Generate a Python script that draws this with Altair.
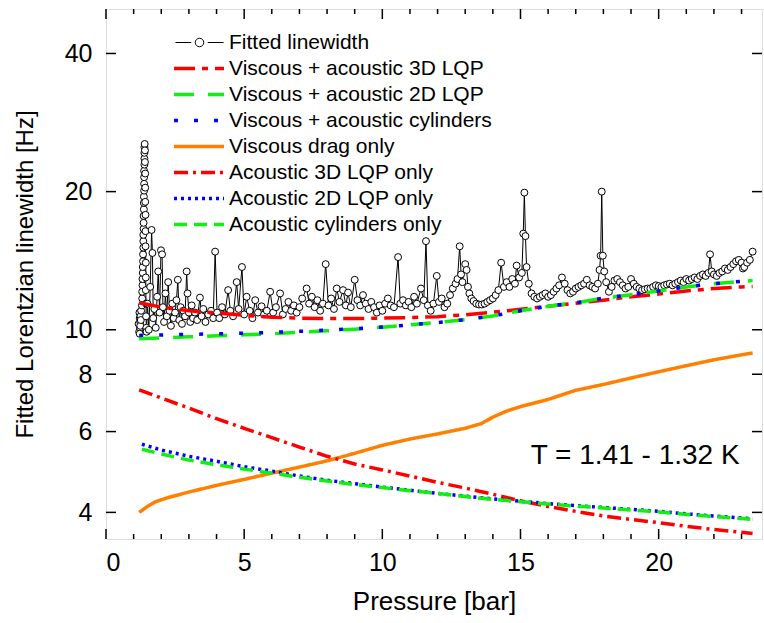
import altair as alt
import pandas as pd

FONT = "Liberation Sans"

# ---------------- data ----------------
fitted = [
    (1.18, 10.3), (1.20, 9.9), (1.22, 10.6), (1.23, 10.1), (1.21, 10.9), (1.24, 10.4),
    (1.22, 9.8), (1.25, 10.7), (1.24, 10.2), (1.27, 11.0), (1.26, 10.5),
    (1.30, 11.3), (1.31, 11.7), (1.31, 12.1), (1.32, 12.5), (1.32, 12.9), (1.33, 13.3),
    (1.33, 13.7), (1.34, 14.1), (1.34, 14.6), (1.35, 15.1), (1.35, 15.6), (1.35, 16.1),
    (1.36, 16.6), (1.36, 17.1), (1.36, 17.7), (1.37, 18.3), (1.37, 18.9), (1.37, 19.5),
    (1.38, 20.1), (1.38, 20.8), (1.38, 21.5), (1.38, 22.2), (1.39, 22.9), (1.39, 23.6),
    (1.39, 24.3), (1.39, 25.0), (1.40, 25.4),
    (1.41, 24.6), (1.41, 23.2), (1.42, 21.9), (1.42, 20.4), (1.42, 19.0), (1.43, 17.8),
    (1.43, 16.4), (1.43, 15.2), (1.44, 14.0), (1.44, 13.0), (1.44, 12.2), (1.45, 11.4),
    (1.45, 10.7), (1.46, 10.1), (1.47, 9.9),
    (1.50, 11.4), (1.55, 10.0), (1.60, 12.4), (1.65, 16.5), (1.68, 14.7), (1.71, 10.6),
    (1.75, 11.1), (1.80, 10.1), (1.85, 11.8), (1.89, 13.4), (1.94, 10.9), (1.99, 14.9),
    (2.03, 14.6), (2.06, 11.2), (2.10, 10.4), (2.15, 12.0), (2.20, 10.7), (2.25, 12.7),
    (2.30, 11.0), (2.35, 10.2), (2.40, 11.4), (2.45, 10.6), (2.50, 10.9), (2.55, 11.6),
    (2.60, 12.85), (2.65, 10.5), (2.70, 11.2), (2.75, 10.3), (2.80, 11.0), (2.86, 10.7),
    (2.92, 13.4), (2.95, 12.0), (3.00, 10.9), (3.05, 10.4), (3.10, 11.3), (3.15, 10.6),
    (3.22, 10.9), (3.30, 10.5), (3.40, 11.75), (3.46, 10.7), (3.52, 11.1), (3.60, 10.4),
    (3.70, 10.8), (3.80, 11.0), (3.88, 10.6), (3.95, 14.8), (4.02, 10.9), (4.10, 10.6),
    (4.20, 11.2), (4.30, 10.8), (4.42, 12.2), (4.50, 11.0), (4.60, 10.7), (4.73, 12.7),
    (4.80, 11.1), (4.92, 13.7), (5.00, 10.8), (5.09, 11.8), (5.20, 11.0), (5.30, 10.6),
    (5.40, 11.6), (5.50, 10.9), (5.63, 11.25), (5.72, 10.8), (5.82, 11.0), (5.94, 12.1),
    (6.05, 10.9), (6.15, 11.2), (6.30, 12.0), (6.40, 10.8), (6.50, 11.1), (6.60, 11.5),
    (6.70, 11.0), (6.80, 11.3), (6.90, 10.9), (7.00, 11.2), (7.10, 11.7), (7.26, 12.3),
    (7.35, 11.4), (7.45, 11.8), (7.55, 11.2), (7.65, 11.6), (7.75, 11.0), (7.85, 11.4),
    (7.95, 13.9), (8.05, 11.3), (8.15, 11.7), (8.25, 11.1), (8.35, 12.3), (8.45, 11.5),
    (8.58, 12.2), (8.68, 11.3), (8.76, 12.05), (8.86, 11.2), (9.00, 12.85), (9.10, 11.6),
    (9.20, 11.3), (9.30, 11.9), (9.40, 11.4), (9.50, 11.1), (9.60, 11.5), (9.70, 11.2),
    (9.80, 10.9), (9.90, 11.3), (10.00, 11.0), (10.10, 11.4), (10.20, 11.7), (10.30, 11.3),
    (10.42, 11.2), (10.57, 14.4), (10.65, 11.4), (10.75, 11.6), (10.85, 11.3), (10.95, 11.5),
    (11.05, 11.2), (11.15, 11.8), (11.25, 11.4), (11.40, 12.3), (11.50, 11.6), (11.58, 15.6),
    (11.65, 11.3), (11.75, 11.0), (11.85, 11.4), (11.97, 13.1), (12.05, 11.5), (12.15, 11.7),
    (12.25, 11.2), (12.35, 11.4), (12.45, 11.9), (12.55, 12.3), (12.65, 12.6), (12.72, 12.9),
    (12.80, 15.2), (12.85, 13.2), (12.90, 12.7), (13.00, 13.9), (13.05, 13.5), (13.10, 12.4),
    (13.15, 12.0), (13.22, 11.7), (13.30, 11.55), (13.40, 11.4), (13.50, 11.35), (13.60, 11.35),
    (13.70, 11.4), (13.80, 11.5), (13.90, 11.6), (14.00, 11.7), (14.10, 11.9), (14.20, 12.2),
    (14.30, 14.0), (14.40, 12.4), (14.50, 12.7), (14.60, 12.4), (14.70, 12.9), (14.80, 12.6),
    (14.86, 13.8), (14.95, 13.0), (15.05, 13.3), (15.10, 16.2), (15.14, 19.9), (15.18, 16.0),
    (15.22, 13.7), (15.30, 12.6), (15.40, 12.0), (15.50, 11.8), (15.60, 11.7), (15.70, 11.8),
    (15.80, 11.9), (15.90, 12.0), (16.00, 11.8), (16.10, 11.9), (16.20, 12.1), (16.30, 12.3),
    (16.40, 12.5), (16.50, 13.0), (16.60, 12.6), (16.70, 12.2), (16.80, 12.0), (16.90, 12.1),
    (17.00, 12.3), (17.10, 12.4), (17.20, 12.5), (17.30, 12.6), (17.40, 12.85), (17.50, 12.5),
    (17.60, 12.4), (17.70, 12.3), (17.80, 12.6), (17.86, 13.5), (17.90, 14.5), (17.94, 20.0),
    (17.98, 14.5), (18.03, 13.4), (18.10, 12.7), (18.20, 12.1), (18.30, 12.4), (18.40, 12.8),
    (18.50, 12.9), (18.60, 12.7), (18.70, 12.5), (18.80, 12.3), (18.90, 12.4), (19.00, 12.9),
    (19.10, 12.6), (19.20, 12.4), (19.30, 12.3), (19.40, 12.2), (19.50, 12.25), (19.60, 12.3),
    (19.70, 12.3), (19.80, 12.4), (19.90, 12.5), (20.00, 12.45), (20.10, 12.4), (20.20, 12.5),
    (20.30, 12.55), (20.40, 12.6), (20.50, 12.5), (20.60, 12.6), (20.70, 12.7), (20.80, 12.8),
    (20.90, 12.7), (21.00, 12.9), (21.10, 12.8), (21.20, 12.9), (21.30, 13.0), (21.40, 12.9),
    (21.50, 13.1), (21.60, 13.2), (21.70, 13.1), (21.80, 13.3), (21.86, 14.6), (21.92, 13.4),
    (22.00, 13.2), (22.10, 13.1), (22.20, 13.3), (22.30, 13.4), (22.40, 13.6), (22.50, 13.5),
    (22.60, 13.7), (22.70, 13.9), (22.80, 14.1), (22.90, 14.2), (23.00, 14.0), (23.05, 13.6),
    (23.10, 13.7), (23.20, 14.0), (23.30, 14.2), (23.40, 14.8),
]

curve_p = [1.2, 2, 3, 4, 5, 6, 7, 8, 9, 10, 11, 12, 13, 14, 15, 16, 17, 18, 19, 20, 21, 22, 23, 23.4]
va_3d = [11.45, 11.2, 11.0, 10.88, 10.75, 10.65, 10.6, 10.58, 10.58, 10.6, 10.63, 10.68,
         10.78, 10.92, 11.08, 11.25, 11.42, 11.6, 11.8, 11.96, 12.15, 12.3, 12.4, 12.43]
va_2d = [9.56, 9.6, 9.65, 9.7, 9.75, 9.8, 9.87, 9.95, 10.03, 10.13, 10.25, 10.37,
         10.52, 10.72, 11.0, 11.25, 11.45, 11.72, 11.92, 12.15, 12.4, 12.6, 12.75, 12.8]
va_cyl = [9.72, 9.74, 9.77, 9.8, 9.83, 9.87, 9.92, 9.98, 10.05, 10.14, 10.25, 10.37,
          10.52, 10.72, 11.0, 11.25, 11.45, 11.72, 11.92, 12.15, 12.4, 12.6, 12.75, 12.82]
visc_p = [1.2, 1.5, 1.8, 2.2, 3, 4, 5, 6, 7, 8, 9, 10, 11, 12, 13, 13.6, 14.0, 14.5, 15,
          16, 17, 18, 19, 20, 21, 22, 23, 23.4]
visc = [4.0, 4.12, 4.22, 4.3, 4.43, 4.58, 4.72, 4.87, 5.02, 5.18, 5.38, 5.6, 5.78, 5.93,
        6.1, 6.25, 6.45, 6.65, 6.8, 7.05, 7.38, 7.6, 7.85, 8.1, 8.35, 8.6, 8.82, 8.9]
a_3d = [7.4, 7.1, 6.75, 6.4, 6.1, 5.82, 5.55, 5.3, 5.1, 4.95, 4.8, 4.65,
        4.52, 4.38, 4.24, 4.12, 4.02, 3.93, 3.86, 3.8, 3.73, 3.67, 3.62, 3.6]
a_p = [1.3, 2, 3, 4, 5, 6, 7, 8, 9, 10, 11, 12, 13, 14, 15, 16, 17, 18, 19, 20, 21, 22, 23, 23.4]
a_2d = [5.63, 5.47, 5.3, 5.17, 5.03, 4.92, 4.8, 4.7, 4.62, 4.54, 4.47, 4.4,
        4.34, 4.28, 4.23, 4.18, 4.14, 4.1, 4.06, 4.02, 3.97, 3.93, 3.89, 3.87]
a_cyl = [5.49, 5.36, 5.2, 5.08, 4.97, 4.87, 4.77, 4.68, 4.6, 4.53, 4.46, 4.4,
         4.33, 4.27, 4.22, 4.17, 4.13, 4.09, 4.05, 4.01, 3.96, 3.92, 3.88, 3.86]

names = ["Viscous + acoustic 3D LQP", "Viscous + acoustic 2D LQP",
         "Viscous + acoustic cylinders", "Viscous drag only",
         "Acoustic 3D LQP only", "Acoustic 2D LQP only", "Acoustic cylinders only"]
colors = ["#FF0000", "#11EE11", "#0000FF", "#FF8000", "#FF0000", "#0000FF", "#11EE11"]
dashes = [[21, 7, 6, 7], [20, 14], [4, 16], [1, 0], [14, 5, 3, 5], [3, 4], [13, 7]]

x_major = [0, 5, 10, 15, 20]
x_minor = [1, 2, 3, 4, 6, 7, 8, 9, 11, 12, 13, 14, 16, 17, 18, 19, 21, 22, 23]
y_ticks = [4, 6, 8, 10, 20, 40]

annotation = ["T = 1.41 - 1.32 K"]
ann_p = [19.15]
ann_w = [5.31]

# ---------------- tables ----------------
fit_df = pd.DataFrame({"p": [a for a, b in fitted], "w": [b for a, b in fitted],
                       "i": list(range(len(fitted))), "series": "Fitted linewidth"})

rows = []
series_xy = [(curve_p, va_3d), (curve_p, va_2d), (curve_p, va_cyl), (visc_p, visc),
             (curve_p, a_3d), (a_p, a_2d), (a_p, a_cyl)]
for name, (px, wy) in zip(names, series_xy):
    for k, (a, b) in enumerate(zip(px, wy)):
        rows.append({"series": name, "p": a, "w": b, "k": k})
model_df = pd.DataFrame(rows)

W, H = 656, 530
xs = alt.Scale(domain=[0, 23.74], nice=False, zero=False)
ys = alt.Scale(type="log", domain=[3.5, 50], nice=False)

x_axis = alt.Axis(values=x_major, title="Pressure [bar]", labelFontSize=25, titleFontSize=26,
                  labelFont=FONT, titleFont=FONT, labelPadding=11, titlePadding=13,
                  ticks=False, domain=False, grid=False, labelColor="black",
                  titleColor="black", titleFontWeight="normal", format="d")
y_axis = alt.Axis(values=y_ticks, title="Fitted Lorentzian linewidth [Hz]", labelFontSize=25,
                  titleFontSize=24, labelFont=FONT, titleFont=FONT, labelPadding=14,
                  titlePadding=27, ticks=False, domain=False, grid=False, labelColor="black",
                  titleColor="black", titleFontWeight="normal", format="d")


def X(field="p"):
    return alt.X(f"{field}:Q", scale=xs, axis=x_axis)


def Y(field="w"):
    return alt.Y(f"{field}:Q", scale=ys, axis=y_axis)


fit_path = ("M-2.09,0L-0.72,0M0.72,0L2.09,0M0.37,0A0.37,0.37,0,1,1,-0.37,0"
            "A0.37,0.37,0,1,1,0.37,0")
line_path = "M-2.44,0L2.44,0"

fit_line = alt.Chart(fit_df).mark_line(color="black", strokeWidth=1).encode(
    x=X(), y=Y(), order=alt.Order("i:Q"))

fit_pts = alt.Chart(fit_df).mark_point(
    shape="circle", size=48, filled=True, stroke="black", strokeWidth=1,
    opacity=1, fillOpacity=1, strokeOpacity=1).encode(
    x=X(), y=Y(),
    fill=alt.Fill("series:N", scale=alt.Scale(domain=["Fitted linewidth"], range=["white"]),
                  legend=alt.Legend(title=None, orient="none", legendX=81.5, legendY=21.5,
                                    symbolType=fit_path, symbolSize=529,
                                    symbolStrokeWidth=1, symbolStrokeColor="black",
                                    labelFont=FONT, labelFontSize=21, labelOffset=17.5,
                                    labelLimit=400, padding=0, labelColor="black")))

line_legend = alt.Legend(title=None, orient="none", legendX=81, legendY=47.5,
                         symbolType=line_path, symbolSize=420, symbolStrokeWidth=3.5,
                         labelFont=FONT, labelFontSize=21, labelOffset=18, labelLimit=400,
                         rowPadding=4.0, padding=0, labelColor="black")

models = alt.Chart(model_df).mark_line(strokeWidth=3.5).encode(
    x=X(), y=Y(),
    color=alt.Color("series:N", scale=alt.Scale(domain=names, range=colors),
                    legend=line_legend),
    strokeDash=alt.StrokeDash("series:N", scale=alt.Scale(domain=names, range=dashes),
                              legend=line_legend),
    order=alt.Order("k:Q"))

xmaj_df = pd.DataFrame({"v": x_major})
xmin_df = pd.DataFrame({"v": x_minor})
yt_df = pd.DataFrame({"v": y_ticks})


def xtick_layer(df, length):
    base = alt.Chart(df).mark_rule(color="black", strokeWidth=1.5)
    bottom = base.encode(x=X("v"), y=alt.value(H), y2=alt.value(H - length))
    top = base.encode(x=X("v"), y=alt.value(0), y2=alt.value(length))
    return [bottom, top]


ybase = alt.Chart(yt_df).mark_rule(color="black", strokeWidth=1.5)
yleft = ybase.encode(y=Y("v"), x=alt.value(0), x2=alt.value(10))
yright = ybase.encode(y=Y("v"), x=alt.value(W), x2=alt.value(W - 10))

ann = alt.Chart(pd.DataFrame({"p": ann_p, "w": ann_w, "t": annotation})).mark_text(
    font=FONT, fontSize=28, color="black", align="center", baseline="middle").encode(
    x=X(), y=Y(), text="t:N")

chart = alt.layer(
    fit_line, fit_pts, models,
    *xtick_layer(xmaj_df, 10), *xtick_layer(xmin_df, 5),
    yleft, yright, ann
).properties(
    width=W, height=H,
    autosize=alt.AutoSizeParams(type="none"),
    padding={"left": 106, "top": 9, "right": 2, "bottom": 84},
).configure_view(stroke="black", strokeWidth=2).configure(background="white")

chart.save("out.html", embed_options={"renderer": "svg", "actions": False})
